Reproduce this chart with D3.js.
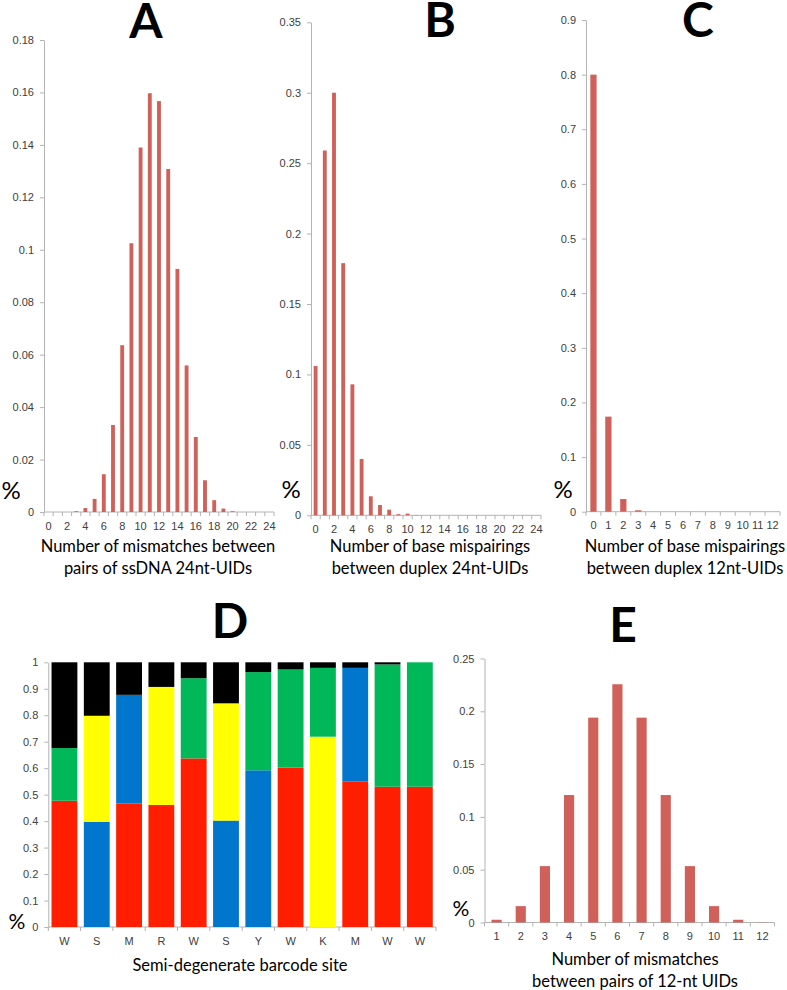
<!DOCTYPE html>
<html>
<head>
<meta charset="utf-8">
<script src="https://cdn.jsdelivr.net/npm/d3@7"></script>
<style>
  body { margin: 0; background: #fff; }
  svg { display: block; font-family: Lato, "Open Sans", sans-serif; }
  .tick text { fill: #404040; font-size: 11px; }
</style>
</head>
<body>
<svg id="fig" width="787" height="990"></svg>
<script>
// Panel A: mismatches between pairs of ssDNA 24nt-UIDs
const aCats = d3.range(0, 25);
const aVals = [0, 0, 0, 0.0003, 0.0015, 0.005, 0.0144, 0.0332, 0.0636, 0.1025, 0.139, 0.1597,
  0.1567, 0.1308, 0.0927, 0.0559, 0.0286, 0.0121, 0.0045, 0.0013, 0.0003, 0, 0, 0, 0];
const aTicks = [0, 0.02, 0.04, 0.06, 0.08, 0.1, 0.12, 0.14, 0.16, 0.18];

// Panel B: base mispairings between duplex 24nt-UIDs
const bCats = d3.range(0, 25);
const bVals = [0.106, 0.259, 0.3, 0.179, 0.093, 0.04, 0.0135, 0.0073, 0.004, 0.0008, 0.0012,
  0.0002, 0, 0, 0, 0, 0, 0, 0, 0, 0, 0, 0, 0, 0];
const bTicks = [0, 0.05, 0.1, 0.15, 0.2, 0.25, 0.3, 0.35];

// Panel C: base mispairings between duplex 12nt-UIDs
const cCats = d3.range(0, 13);
const cVals = [0.8, 0.174, 0.0232, 0.0026, 0, 0, 0, 0, 0, 0, 0, 0, 0];
const cTicks = [0, 0.1, 0.2, 0.3, 0.4, 0.5, 0.6, 0.7, 0.8, 0.9];

// Panel D: base composition at each semi-degenerate site
const dSites = ["W", "S", "M", "R", "W", "S", "Y", "W", "K", "M", "W", "W"];
const dRed    = [0.477, 0,     0.467, 0.461, 0.637, 0,     0,     0.602, 0,     0.549, 0.53,  0.53];
const dBlue   = [0,     0.397, 0.41,  0,     0,     0.402, 0.592, 0,     0,     0.43,  0,     0];
const dYellow = [0,     0.401, 0,     0.446, 0,     0.443, 0,     0,     0.719, 0,     0,     0];
const dGreen  = [0.199, 0,     0,     0,     0.303, 0,     0.371, 0.371, 0.26,  0,     0.462, 0.47];
const dBlack  = [0.324, 0.202, 0.123, 0.093, 0.06,  0.155, 0.037, 0.027, 0.021, 0.021, 0.008, 0];
const dTicks = [0, 0.1, 0.2, 0.3, 0.4, 0.5, 0.6, 0.7, 0.8, 0.9, 1];

// Panel E: mismatches between pairs of 12-nt UIDs
const eCats = d3.range(1, 13);
const eVals = [0.0026, 0.0155, 0.0534, 0.1207, 0.194, 0.2256, 0.194, 0.1207, 0.0534, 0.0155, 0.0026, 0.0002];
const eTicks = [0, 0.05, 0.1, 0.15, 0.2, 0.25];

const svg = d3.select("#fig");
const axisCol = "#b3b3b3";
const barCol = "#d0605a";
const fmt = d => String(+d.toFixed(3));

function styleAxis(g) {
  g.select(".domain").attr("stroke", axisCol);
  g.selectAll(".tick line").attr("stroke", axisCol);
}

function frame(x0, x1, n, y, ticks) {
  // y axis
  svg.append("g")
    .attr("transform", `translate(${x0},0)`)
    .call(d3.axisLeft(y).tickValues(ticks).tickFormat(fmt).tickSize(4).tickSizeOuter(0).tickPadding(6))
    .call(styleAxis);
  // x axis line + ticks at category boundaries
  const bx = d3.scaleLinear().domain([0, n]).range([x0, x1]);
  const y0 = y(0);
  svg.append("line").attr("x1", x0).attr("x2", x1).attr("y1", y0).attr("y2", y0).attr("stroke", axisCol);
  svg.append("g").selectAll("line").data(d3.range(0, n + 1)).join("line")
    .attr("x1", d => bx(d)).attr("x2", d => bx(d))
    .attr("y1", y0).attr("y2", y0 + 4).attr("stroke", axisCol);
}

function labelText(x, y, txt, size, weight) {
  svg.append("text").attr("x", x).attr("y", y)
    .attr("text-anchor", "middle").attr("dominant-baseline", "central")
    .attr("font-size", size).attr("font-weight", weight || 400).attr("fill", "#000")
    .text(txt);
}

// big panel letters, placed by baseline
function letter(x, base, txt) {
  svg.append("text").attr("x", x).attr("y", base)
    .attr("text-anchor", "middle")
    .attr("font-size", 48).attr("font-weight", 700).attr("fill", "#000")
    .text(txt);
}

function barPanel(o) {
  const x = d3.scaleBand().domain(o.cats).range([o.x0, o.x1]).paddingInner(0.58).paddingOuter(0.29);
  const y = d3.scaleLinear().domain([0, o.max]).range([o.yb, o.yt]);
  frame(o.x0, o.x1, o.cats.length, y, o.ticks);
  svg.append("g")
    .attr("transform", `translate(0,${y(0)})`)
    .call(d3.axisBottom(x).tickValues(o.cats.filter(o.show)).tickSize(0).tickPadding(10))
    .call(g => g.select(".domain").remove());
  svg.append("g").selectAll("rect").data(o.vals).join("rect")
    .attr("x", (d, i) => x(o.cats[i]))
    .attr("width", x.bandwidth())
    .attr("y", d => y(d))
    .attr("height", d => y(0) - y(d))
    .attr("fill", barCol);
  letter(o.letterX, o.letterBase, o.letter);
  labelText(o.pctX, o.pctY, "%", o.pctSize || 24);
  o.title.forEach((t, i) => labelText(o.titleX, o.titleY + i * 22, t, 16.5));
}

barPanel({ cats: aCats, vals: aVals, ticks: aTicks, max: 0.18, x0: 44, x1: 274, yt: 40, yb: 512,
  show: d => d % 2 === 0, letter: "A", letterX: 146, letterBase: 38, pctX: 11, pctY: 489,
  title: ["Number of mismatches between", "pairs of ssDNA 24nt-UIDs"], titleX: 158, titleY: 546 });

barPanel({ cats: bCats, vals: bVals, ticks: bTicks, max: 0.35, x0: 311, x1: 541, yt: 22.3, yb: 515.3,
  show: d => d % 2 === 0, letter: "B", letterX: 440, letterBase: 37, pctX: 291, pctY: 488,
  title: ["Number of base mispairings", "between duplex 24nt-UIDs"], titleX: 430, titleY: 546 });

barPanel({ cats: cCats, vals: cVals, ticks: cTicks, max: 0.9, x0: 586, x1: 780, yt: 20, yb: 511.7,
  show: d => true, letter: "C", letterX: 698, letterBase: 37, pctX: 563, pctY: 488,
  title: ["Number of base mispairings", "between duplex 12nt-UIDs"], titleX: 685, titleY: 546 });

barPanel({ cats: eCats, vals: eVals, ticks: eTicks, max: 0.25, x0: 484.5, x1: 774.5, yt: 658.5, yb: 922.5,
  show: d => true, letter: "E", letterX: 623, letterBase: 642, pctX: 461, pctY: 907, pctSize: 21,
  title: ["Number of mismatches", "between pairs of 12-nt UIDs"], titleX: 635, titleY: 959 });

// Panel D: stacked composition bars
(function () {
  const x0 = 48.3, x1 = 436;
  const idx = d3.range(dSites.length);
  const x = d3.scaleBand().domain(idx).range([x0, x1]).paddingInner(0.2).paddingOuter(0.1);
  const y = d3.scaleLinear().domain([0, 1]).range([927, 662.3]);
  frame(x0, x1, idx.length, y, dTicks);
  svg.append("g")
    .attr("transform", `translate(0,${y(0)})`)
    .call(d3.axisBottom(x).tickFormat(i => dSites[i]).tickSize(0).tickPadding(10))
    .call(g => g.select(".domain").remove());

  const keys = ["red", "blue", "yellow", "green", "black"];
  const cols = { red: "#ff1f00", blue: "#0077cc", yellow: "#ffff00", green: "#00b858", black: "#000000" };
  const rows = idx.map(i => ({ i, red: dRed[i], blue: dBlue[i], yellow: dYellow[i], green: dGreen[i], black: dBlack[i] }));
  const series = d3.stack().keys(keys)(rows);
  svg.append("g").selectAll("g").data(series).join("g")
    .attr("fill", s => cols[s.key])
    .selectAll("rect").data(s => s).join("rect")
    .attr("x", d => x(d.data.i))
    .attr("width", x.bandwidth())
    .attr("y", d => y(d[1]))
    .attr("height", d => y(d[0]) - y(d[1]));

  letter(230, 638, "D");
  labelText(17, 920, "%", 21);
  labelText(240, 965, "Semi-degenerate barcode site", 16.5);
})();
</script>
</body>
</html>
